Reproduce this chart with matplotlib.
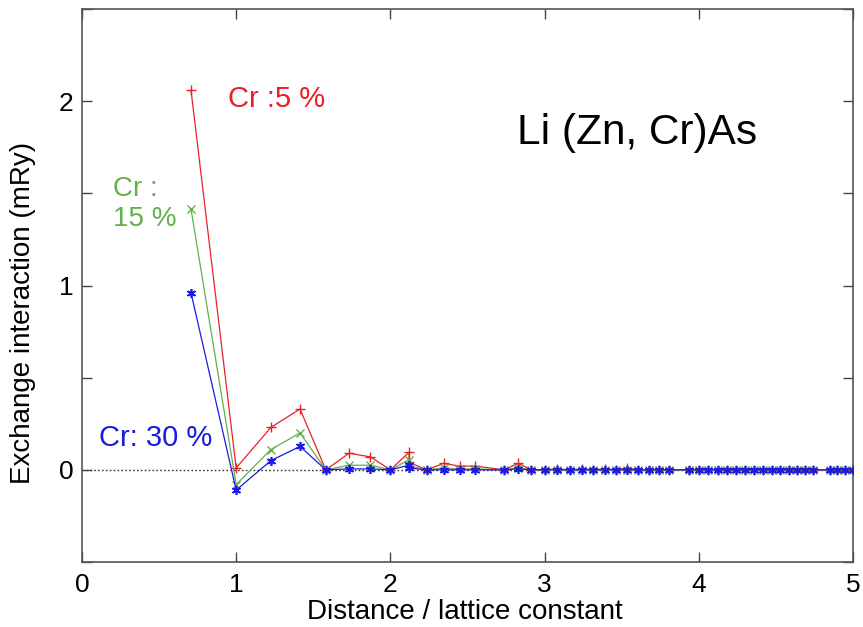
import matplotlib
matplotlib.use("Agg")
import matplotlib.pyplot as plt

plt.rcParams['font.family'] = ['Liberation Sans', 'DejaVu Sans']

# Distance / lattice constant
distance = [0.707, 1.0, 1.225, 1.414, 1.581, 1.732, 1.871, 2.0, 2.121, 2.121,
            2.236, 2.345, 2.449, 2.55, 2.739, 2.828, 2.915, 3.0, 3.082, 3.162,
            3.24, 3.317, 3.391, 3.464, 3.536, 3.606, 3.674, 3.742, 3.808, 3.937,
            4.0, 4.062, 4.123, 4.183, 4.243, 4.301, 4.359, 4.416, 4.472, 4.528,
            4.583, 4.637, 4.69, 4.743, 4.848, 4.899, 4.95, 5.0]

# Exchange interaction (mRy)
cr5 = [2.06, 0.01, 0.23, 0.33, 0.0, 0.09, 0.07, 0.0, 0.095, 0.04,
       0.0, 0.035, 0.02, 0.02, 0.0, 0.035, 0.0, 0.0, 0.005, 0.0,
       0.005, 0.0, 0.005, 0.0, 0.01, 0.0, 0.0, 0.0, 0.0, 0.0,
       0.0, 0.0, 0.0, 0.0, 0.0, 0.0, 0.0, 0.0, 0.0, 0.0,
       0.0, 0.0, 0.0, 0.0, 0.0, 0.0, 0.0, 0.0]
cr15 = [1.415, -0.08, 0.11, 0.20, 0.0, 0.025, 0.025, 0.0, 0.055, 0.02,
        0.0, 0.01, 0.005, 0.005, 0.0, 0.01, 0.0, 0.0, 0.0, 0.0,
        0.0, 0.0, 0.0, 0.0, 0.0, 0.0, 0.0, 0.0, 0.0, 0.0,
        0.0, 0.0, 0.0, 0.0, 0.0, 0.0, 0.0, 0.0, 0.0, 0.0,
        0.0, 0.0, 0.0, 0.0, 0.0, 0.0, 0.0, 0.0]
cr30 = [0.96, -0.11, 0.05, 0.127, 0.0, 0.005, 0.005, 0.0, 0.025, 0.01,
        0.0, 0.0, 0.0, 0.0, 0.0, 0.005, 0.0, 0.0, 0.0, 0.0,
        0.0, 0.0, 0.0, 0.0, 0.0, 0.0, 0.0, 0.0, 0.0, 0.0,
        0.0, 0.0, 0.0, 0.0, 0.0, 0.0, 0.0, 0.0, 0.0, 0.0,
        0.0, 0.0, 0.0, 0.0, 0.0, 0.0, 0.0, 0.0]

xticks = [0, 1, 2, 3, 4, 5]
yticks = [-0.5, 0, 0.5, 1, 1.5, 2, 2.5]
ytick_labels = ['', '0', '', '1', '', '2', '']

RED = '#e8202a'
GREEN = '#62b04a'
BLUE = '#1a1ae0'

fig = plt.figure(figsize=(8.63, 6.27), dpi=100)
ax = fig.add_axes([0.095, 0.1037, 0.8934, 0.8819])

ax.axhline(0, color='#333333', linestyle=(0, (1.2, 1.6)), linewidth=1.0, zorder=1)

ax.plot(distance, cr5, color=RED, marker='+', markersize=7, markeredgewidth=1.0,
        linewidth=0.9, zorder=2)
ax.plot(distance, cr15, color=GREEN, marker='x', markersize=5.5, markeredgewidth=1.0,
        linewidth=0.9, zorder=3)
ax.plot(distance, cr30, color=BLUE, marker=(6, 2, 0), markersize=6.5, markeredgewidth=1.2,
        linewidth=0.9, zorder=4)

ax.set_xlim(0, 5)
ax.set_ylim(-0.5, 2.5)
ax.set_xticks(xticks)
ax.set_xticklabels([str(t) for t in xticks])
ax.set_yticks(yticks)
ax.set_yticklabels(ytick_labels)

for s in ax.spines.values():
    s.set_color('#555555')
    s.set_linewidth(1.2)
ax.tick_params(direction='in', length=7, width=1.0, color='#444444',
               top=True, right=True, labelsize=19, labelcolor='black')
ax.tick_params(axis='x', pad=8)
ax.tick_params(axis='y', pad=6)

ax.set_xlabel('Distance / lattice constant', fontsize=20)
ax.set_ylabel('Exchange interaction (mRy)', fontsize=20)
ax.xaxis.set_label_coords(0.497, -0.067)
ax.yaxis.set_label_coords(-0.06, 0.45)

ax.text(0.945, 2.01, 'Cr :5 %', color=RED, fontsize=21, ha='left', va='center')
ax.text(0.2, 1.44, 'Cr :\n15 %', color=GREEN, fontsize=20, ha='left', va='center',
        linespacing=1.2)
ax.text(0.11, 0.175, 'Cr: 30 %', color=BLUE, fontsize=21, ha='left', va='center')
ax.text(2.82, 1.83, 'Li (Zn, Cr)As', color='black', fontsize=30.5, ha='left', va='center')

fig.savefig('out.png', dpi=100)
